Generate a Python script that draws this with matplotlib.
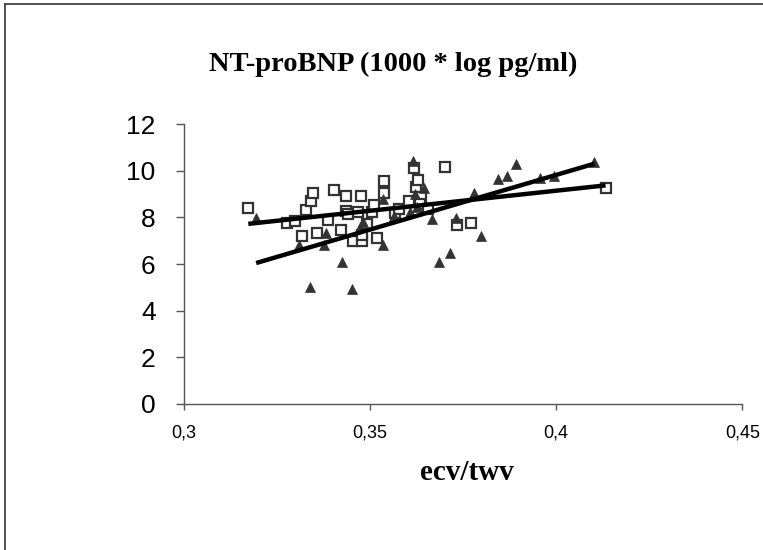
import matplotlib
matplotlib.use("Agg")
import matplotlib.pyplot as plt
import numpy as np
from matplotlib.lines import Line2D

# Open squares series
sq_x = [0.3174, 0.3277, 0.3300, 0.3319, 0.3328, 0.3341, 0.3348, 0.3357, 0.3388, 0.3403,
        0.3422, 0.3436, 0.3436, 0.3441, 0.3454, 0.3469, 0.3477, 0.3480, 0.3478, 0.3493,
        0.3506, 0.3510, 0.3519, 0.3539, 0.3539, 0.3568, 0.3578, 0.3604, 0.3620, 0.3624,
        0.3629, 0.3638, 0.3635, 0.3657, 0.3702, 0.3735, 0.3772, 0.4133]
sq_y = [8.38, 7.75, 7.83, 7.20, 8.32, 8.68, 9.06, 7.35, 7.89, 9.18,
        7.47, 8.92, 8.28, 8.13, 7.00, 8.23, 8.91, 7.00, 7.23, 7.72,
        8.25, 8.55, 7.11, 9.55, 9.04, 8.20, 8.35, 8.70, 10.11, 9.28,
        9.58, 8.88, 8.58, 8.35, 10.14, 7.68, 7.77, 9.24]

# Filled triangles series
tr_x = [0.3195, 0.3311, 0.3340, 0.3378, 0.3383, 0.3425, 0.3453, 0.3475, 0.3483, 0.3535,
        0.3536, 0.3565, 0.3607, 0.3617, 0.3622, 0.3626, 0.3645, 0.3667, 0.3687, 0.3714,
        0.3732, 0.3779, 0.3799, 0.3844, 0.3868, 0.3892, 0.3957, 0.3994, 0.4103]
tr_y = [7.96, 6.81, 5.01, 6.82, 7.35, 6.10, 4.92, 7.60, 7.78, 8.80,
        6.82, 8.07, 8.22, 10.41, 8.98, 8.43, 9.27, 7.95, 6.10, 6.48,
        7.98, 9.06, 7.20, 9.63, 9.78, 10.29, 9.70, 9.78, 10.38]

# Linear trendlines (intercept, slope)
sq_fit = [2.261, 17.2]
tr_fit = [-8.943, 46.9]

x_ticks = [0.3, 0.35, 0.4, 0.45]
x_tick_labels = ["0,3", "0,35", "0,4", "0,45"]
y_ticks = [0, 2, 4, 6, 8, 10, 12]

fig = plt.figure(figsize=(7.63, 5.5), dpi=100)
ax = fig.add_axes([0.2405, 0.2655, 0.7324, 0.509])

mc = "#333333"
ax.plot(sq_x, sq_y, linestyle="none", marker="s", markersize=6.5,
        markerfacecolor="white", markeredgecolor=mc, markeredgewidth=1.6, zorder=3)
ax.plot(tr_x, tr_y, linestyle="none", marker="^", markersize=7.5,
        markerfacecolor=mc, markeredgecolor=mc, markeredgewidth=0.5, zorder=3)

xs = np.array([min(sq_x), max(sq_x)])
ax.plot(xs, sq_fit[0] + sq_fit[1] * xs, color="black", linewidth=3.2, zorder=4,
        solid_capstyle="butt")
xt = np.array([min(tr_x), max(tr_x)])
ax.plot(xt, tr_fit[0] + tr_fit[1] * xt, color="black", linewidth=3.2, zorder=4,
        solid_capstyle="butt")

ax.set_xlim(0.3, 0.45)
ax.set_ylim(0, 12)
ax.set_xticks(x_ticks)
ax.set_xticklabels(x_tick_labels, fontfamily="Liberation Sans", fontsize=13)
ax.set_yticks(y_ticks)
ax.set_yticklabels([str(v) for v in y_ticks], fontfamily="Liberation Sans", fontsize=19)

for s in ["top", "right"]:
    ax.spines[s].set_visible(False)
for s in ["left", "bottom"]:
    ax.spines[s].set_color("#555555")
    ax.spines[s].set_linewidth(1.0)
ax.tick_params(axis="y", direction="out", length=6, width=1.0, color="#555555", pad=14)
ax.tick_params(axis="x", direction="out", length=4, width=1.0, color="#555555", pad=11)

fig.text(0.515, 0.883, "NT-proBNP (1000 * log pg/ml)", ha="center", va="center",
         fontfamily="Liberation Serif", fontweight="bold", fontsize=20.5)
fig.text(0.612, 0.141, "ecv/twv", ha="center", va="center",
         fontfamily="Liberation Serif", fontweight="bold", fontsize=21)

# chart border (left and top visible)
fig.add_artist(Line2D([4.5 / 763, 4.5 / 763], [0, 1 - 3.5 / 550], color="#333333",
                      linewidth=1.2, transform=fig.transFigure))
fig.add_artist(Line2D([4.5 / 763, 1], [1 - 3.5 / 550, 1 - 3.5 / 550], color="#333333",
                      linewidth=1.2, transform=fig.transFigure))

fig.savefig("out.png", dpi=100, facecolor="white")
